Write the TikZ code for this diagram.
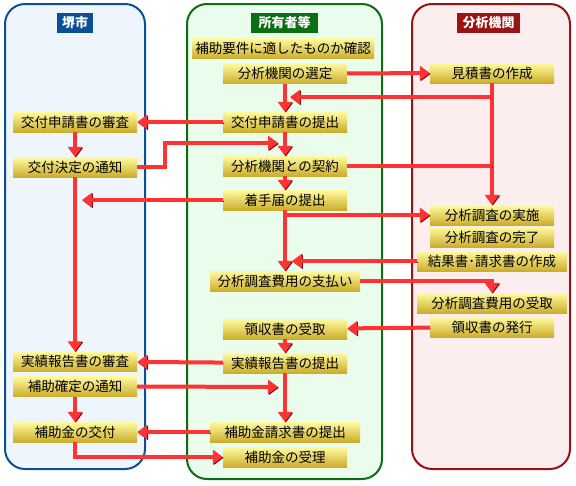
\documentclass[tikz,border=0pt]{standalone}
\usepackage{fontspec}
\setmainfont{Noto Sans CJK JP}
\usetikzlibrary{arrows.meta}

\definecolor{skblue}{HTML}{0D4F94}
\definecolor{skfill}{HTML}{EEF5FD}
\definecolor{owgreen}{HTML}{0B6E12}
\definecolor{owfill}{HTML}{EAFCEB}
\definecolor{anred}{HTML}{9A1212}
\definecolor{anfill}{HTML}{FCEDEE}
\definecolor{arrred}{HTML}{FF3333}
\definecolor{arrdark}{HTML}{7A0000}
\definecolor{boxtop}{HTML}{FFFBA0}
\definecolor{boxbot}{HTML}{CCAD2C}

\begin{document}
\begin{tikzpicture}[x=1pt, y=-1pt,
  font=\fontsize{13.5}{15}\selectfont,
  lane/.style={line width=2pt, rounded corners=20pt},
  lanetitle/.style={text=white, font=\fontsize{13}{15}\selectfont\bfseries,
    minimum height=20pt, inner sep=0pt},
  stepbox/.style={top color=boxtop, bottom color=boxbot, minimum width=124pt,
    minimum height=20pt, inner sep=0pt},
  widebox/.style={stepbox, minimum width=150pt},
  link/.style={draw=arrred, line width=4pt,
    preaction={draw=arrdark, transform canvas={shift={(0.8pt,-0.8pt)}}}},
  arr/.style={link, -{Triangle[length=10pt,width=14pt]}}
]
\useasboundingbox (0,0) rectangle (576,485);

% three lanes
\draw[lane, draw=skblue, fill=skfill] (5,4) rectangle (145,469);
\draw[lane, draw=owgreen, fill=owfill] (187,4) rectangle (382,479);
\draw[lane, draw=anred, fill=anfill] (412,4) rectangle (570,469);

\node[lanetitle, fill=skblue, minimum width=36pt] (tsk) at (75,22.5) {堺市};
\node[lanetitle, fill=owgreen, minimum width=67pt] (tow) at (284.5,22.5) {所有者等};
\node[lanetitle, fill=anred, minimum width=63pt] (tan) at (488.5,22.5) {分析機関};

% 堺市
\node[stepbox] (sk1) at (75,122) {交付申請書の審査};
\node[stepbox] (sk2) at (75,167) {交付決定の通知};
\node[stepbox] (sk3) at (75,361.5) {実績報告書の審査};
\node[stepbox] (sk4) at (75,386.5) {補助確定の通知};
\node[stepbox] (sk5) at (75,432) {補助金の交付};

% 所有者等
\node[stepbox, minimum width=182pt] (ow0) at (283,48.5) {補助要件に適したものか確認};
\node[stepbox] (ow1) at (285,73.5) {分析機関の選定};
\node[stepbox] (ow2) at (285,122) {交付申請書の提出};
\node[stepbox] (ow3) at (285,166) {分析機関との契約};
\node[stepbox] (ow4) at (285,200) {着手届の提出};
\node[widebox] (ow5) at (285,281) {分析調査費用の支払い};
\node[stepbox] (ow6) at (285,329) {領収書の受取};
\node[stepbox] (ow7) at (285,363) {実績報告書の提出};
\node[widebox] (ow8) at (285,432) {補助金請求書の提出};
\node[stepbox] (ow9) at (285,457) {補助金の受理};

% 分析機関
\node[stepbox] (an1) at (492,73) {見積書の作成};
\node[stepbox] (an2) at (492,215) {分析調査の実施};
\node[stepbox] (an3) at (492,237) {分析調査の完了};
\node[widebox] (an4) at (492,261) {結果書･請求書の作成};
\node[widebox] (an5) at (492,303) {分析調査費用の受取};
\node[stepbox] (an6) at (492,327) {領収書の発行};

% free ends and bends
\coordinate (q1) at (290,97);
\coordinate (b2) at (165,143);
\coordinate (q2) at (278,143);
\coordinate (q3) at (82,200);
\coordinate (q4) at (292,261);
\coordinate (q5) at (278,387);

% connectors
\draw[arr] (ow1) -- (an1);
\draw[arr] (an1) -- (an2);
\draw[arr] (an1.south) |- (q1);
\draw[arr] (ow1) -- (ow2);
\draw[arr] (ow2) -- (sk1);
\draw[arr] (sk1) -- (sk2);
\draw[arr] (sk2.east) -| (b2) -- (q2);
\draw[arr] (ow2) -- (ow3);
\draw[link] (ow3.east) -- (an1.south |- ow3.east);
\draw[arr] (ow3) -- (ow4);
\draw[arr] (ow4.west) -- (q3);
\draw[arr] (sk2) -- (sk3);
\draw[arr] (ow4) -- (ow5);
\draw[arr] (ow4.south |- an2.west) -- (an2.west);
\draw[arr] (an4.west) -- (q4);
\draw[arr] (ow5.east) -| (an5.north);
\draw[arr] (an6) -- (ow6);
\draw[arr] (ow6) -- (ow7);
\draw[arr] (ow7) -- (sk3);
\draw[arr] (sk4.east) -- (q5);
\draw[arr] (ow7) -- (ow8);
\draw[arr] (sk4) -- (sk5);
\draw[arr] (ow8) -- (sk5);
\draw[arr] (sk5.south) |- (ow9.west);

\end{tikzpicture}
\end{document}
